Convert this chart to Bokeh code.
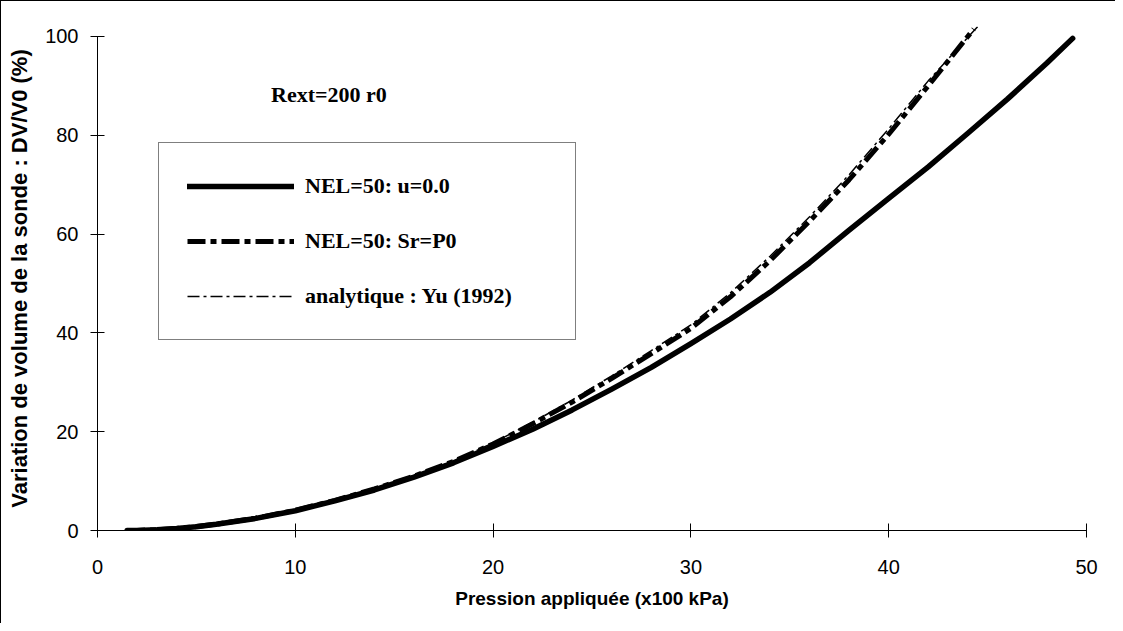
from bokeh.plotting import figure
from bokeh.models import Legend, LegendItem, Label, Range1d, FixedTicker
from bokeh.embed import file_html
from bokeh.resources import INLINE

# ---- data ----
x_ticks = [0, 10, 20, 30, 40, 50]
y_ticks = [0, 20, 40, 60, 80, 100]

u0_x = [1.5, 2, 3, 4, 5, 6, 8, 10, 12, 14, 16, 18, 20, 22, 24, 26, 28, 30,
        32, 34, 36, 38, 40, 42, 44, 46, 48, 49.3]
u0_y = [0.0, 0.02, 0.16, 0.42, 0.78, 1.25, 2.45, 4.0, 6.0, 8.2, 10.8, 13.7,
        17.0, 20.5, 24.4, 28.6, 33.0, 37.8, 42.8, 48.2, 54.2, 60.8, 67.2,
        73.6, 80.4, 87.3, 94.6, 99.6]

sr_x = [1.5, 2, 3, 4, 5, 6, 8, 10, 12, 14, 16, 18, 20, 22, 24, 26, 28, 30,
        32, 34, 36, 38, 40, 42, 44.3]
sr_y = [0.0, 0.02, 0.16, 0.42, 0.8, 1.28, 2.5, 4.1, 6.1, 8.4, 11.0, 14.0,
        17.5, 21.6, 26.0, 30.8, 35.8, 40.9, 47.3, 54.6, 62.6, 71.0, 80.2,
        90.0, 101.5]

yu_x = [1.5, 2, 3, 4, 5, 6, 8, 10, 12, 14, 16, 18, 20, 22, 24, 26, 28, 30,
        32, 34, 36, 38, 40, 42, 44.5]
yu_y = [0.0, 0.02, 0.16, 0.42, 0.8, 1.28, 2.5, 4.1, 6.1, 8.4, 11.0, 14.1,
        17.7, 21.9, 26.4, 31.3, 36.4, 41.6, 48.1, 55.5, 63.5, 72.0, 81.3,
        91.0, 102.0]

series_labels = ["NEL=50: u=0.0", "NEL=50: Sr=P0", "analytique : Yu (1992)"]
title_text = "Rext=200 r0"
x_title = "Pression appliquée (x100 kPa)"
y_title = "Variation de volume de la sonde : DV/V0 (%)"

# ---- figure ----
p = figure(width=1115, height=623,
           x_range=Range1d(0, 50), y_range=Range1d(0, 102),
           output_backend="svg", toolbar_location=None,
           min_border_left=96, min_border_right=30,
           min_border_top=25, min_border_bottom=94)
p.styles = {"border-left": "1px solid black", "border-top": "1px solid black"}
p.outline_line_color = None
p.xgrid.visible = False
p.ygrid.visible = False
p.background_fill_color = "white"
p.border_fill_color = "white"

r1 = p.line(u0_x, u0_y, line_width=5.5, line_color="black",
            line_cap="round", line_join="round")
r2 = p.line(sr_x, sr_y, line_width=5, line_color="black",
            line_dash="18 5 6 5")
r3 = p.line(yu_x, yu_y, line_width=1.5, line_color="black",
            line_dash="12 4 3 4")

for ax in (p.xaxis[0], p.yaxis[0]):
    ax.axis_line_color = "black"
    ax.axis_line_width = 1
    ax.major_tick_line_color = "black"
    ax.major_tick_in = 7
    ax.major_tick_out = 7
    ax.minor_tick_line_color = None
    ax.major_label_text_font = "Liberation Sans"
    ax.major_label_text_font_size = "20px"
    ax.major_label_text_color = "black"
    ax.axis_label_text_font = "Liberation Sans"
    ax.axis_label_text_font_style = "bold"
    ax.axis_label_text_color = "black"

p.xaxis.axis_label_text_font_size = "19px"
p.yaxis.axis_label_text_font_size = "22px"
p.xaxis.ticker = FixedTicker(ticks=x_ticks)
p.yaxis.ticker = FixedTicker(ticks=y_ticks)
p.yaxis.bounds = (0, 100)
p.xaxis.axis_label = x_title
p.yaxis.axis_label = y_title
p.xaxis.major_label_standoff = 22
p.yaxis.major_label_standoff = 12
p.xaxis.axis_label_standoff = 11
p.yaxis.axis_label_standoff = 10

legend = Legend(items=[LegendItem(label=series_labels[0], renderers=[r1]),
                       LegendItem(label=series_labels[1], renderers=[r2]),
                       LegendItem(label=series_labels[2], renderers=[r3])],
                location=(61, 190), orientation="vertical")
legend.border_line_color = "black"
legend.border_line_width = 1
legend.background_fill_color = "white"
legend.background_fill_alpha = 1
legend.padding = 28
legend.spacing = 25
legend.margin = 0
legend.glyph_width = 107
legend.glyph_height = 30
legend.label_height = 30
legend.label_width = 242
legend.label_standoff = 11
legend.label_text_font = "Liberation Serif"
legend.label_text_font_style = "bold"
legend.label_text_font_size = "22px"
legend.label_text_color = "black"
p.add_layout(legend, "center")

title_label = Label(x=11.7, y=88.3, text=title_text, text_align="center",
                    text_baseline="middle", text_font="Liberation Serif",
                    text_font_style="bold", text_font_size="22px",
                    text_color="black")
p.add_layout(title_label)

open("out.html", "w").write(file_html(p, INLINE))
